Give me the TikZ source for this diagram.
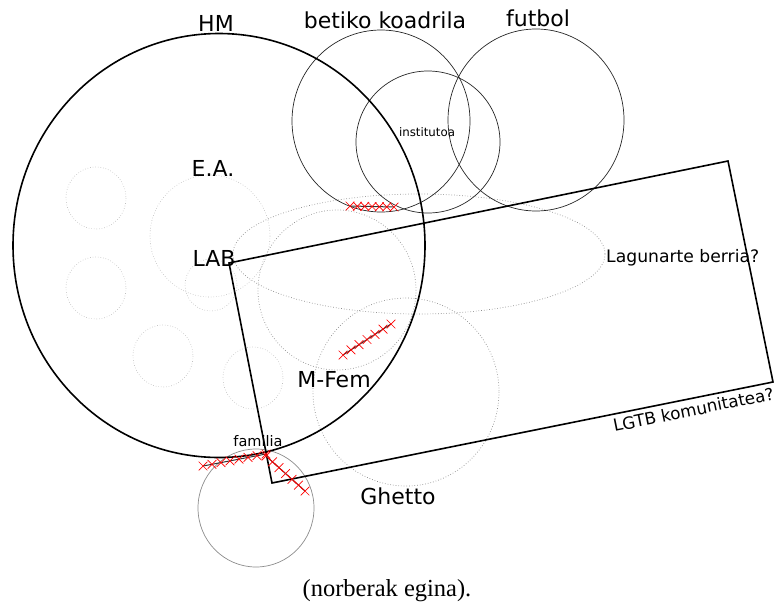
\documentclass[tikz,border=0pt]{standalone}
\usepackage{fontspec}
\setmainfont{DejaVu Sans}
\newfontfamily\capfont{Liberation Serif}
\usetikzlibrary{shapes.misc,calc}
\begin{document}
\begin{tikzpicture}[x=1pt,y=-1pt,
  thickline/.style={line width=1.6pt, black},
  thinline/.style={line width=0.7pt, black!85},
  dotline/.style={line width=0.7pt, gray!90, dotted},
  faintline/.style={line width=0.6pt, gray!55, dotted},
  famline/.style={line width=0.7pt, gray!90},
  lbl/.style={font=\fontsize{22}{24}\selectfont, inner sep=0pt, anchor=base},
  small/.style={font=\fontsize{11.8}{13}\selectfont, inner sep=0pt, anchor=base},
  mid/.style={font=\fontsize{14.5}{16}\selectfont, inner sep=0pt, anchor=base},
  xmark/.style={cross out, draw=red, line width=0.7pt, minimum size=8pt, inner sep=0pt},
  xline/.style={line width=1pt, black!80}]
\useasboundingbox (0,0) rectangle (783,605);

% faint small circles
\draw[faintline] (96,198) ellipse (30 and 31);
\draw[faintline] (96,288) ellipse (30 and 31);
\draw[faintline] (211,285) ellipse (26 and 26);
\draw[faintline] (163,356) ellipse (30 and 31);
\draw[faintline] (253,378) ellipse (30 and 31);
\draw[faintline] (210,236) ellipse (60 and 61);

% dotted circles / ellipse
\draw[dotline] (419,254) ellipse (186 and 60);
\draw[dotline] (337,290) ellipse (79 and 80);
\draw[dotline] (406,392) ellipse (93 and 94);

% thin circles
\draw[thinline] (381,121) ellipse (89 and 91);
\draw[thinline] (428,142) ellipse (72 and 71);
\draw[thinline] (536,120) ellipse (88 and 91);
\draw[famline] (256,508) ellipse (58 and 59);

% HM circle
\draw[thickline] (219,245.5) ellipse (206 and 212);

% rectangle
\coordinate (lab) at (229,263);
\coordinate (tr) at (728,161);
\coordinate (br) at (773,382);
\coordinate (bl) at (272,483);
\draw[thickline, line join=miter] (lab) -- (tr) -- (br) -- (bl) -- cycle;

% cross lines
\coordinate (a1) at (350,206);
\coordinate (a2) at (394,207);
\draw[xline] (a1) -- (a2);
\foreach \i in {0,...,6} \node[xmark] at ($(a1)!{\i/6}!(a2)$) {};

\coordinate (b1) at (343,355);
\coordinate (b2) at (391,324);
\draw[xline] (b1) -- (b2);
\foreach \i in {0,...,6} \node[xmark] at ($(b1)!{\i/6}!(b2)$) {};

\coordinate (c1) at (203,466);
\coordinate (c2) at (266,454);
\draw[xline] (c1) -- (c2);
\foreach \i in {0,...,7} \node[xmark] at ($(c1)!{\i/7}!(c2)$) {};

\coordinate (d1) at (266,456);
\coordinate (d2) at (305,491);
\draw[xline] (d1) -- (d2);
\foreach \i in {0,...,6} \node[xmark] at ($(d1)!{\i/6}!(d2)$) {};

% labels
\node[lbl] (hm) at (216,31) {HM};
\node[lbl] (bk) at (385,28) {betiko koadrila};
\node[lbl] (fb) at (538,26) {futbol};
\node[lbl] (ea) at (213,176) {E.A.};
\node[lbl] (labt) at (214,266) {LAB};
\node[lbl] (mf) at (334,387) {M-Fem};
\node[lbl] (gh) at (398,504) {Ghetto};
\node[small] (inst) at (427,136) {institutoa};
\node[mid] (fam) at (258,446) {familia};
\node[font=\fontsize{17.2}{19}\selectfont, inner sep=0pt, anchor=base west] (lag) at (606,262) {Lagunarte berria?};
\node[font=\fontsize{16.8}{19}\selectfont, inner sep=0pt, anchor=north east, rotate=11.5] (lgtb) at ($(bl)!0.995!(br)+(2,4)$) {LGTB komunitatea?};
\node[font=\capfont\fontsize{24.5}{28}\selectfont, inner sep=0pt, anchor=base] (cap) at (387,596) {(norberak egina).};
\end{tikzpicture}
\end{document}
